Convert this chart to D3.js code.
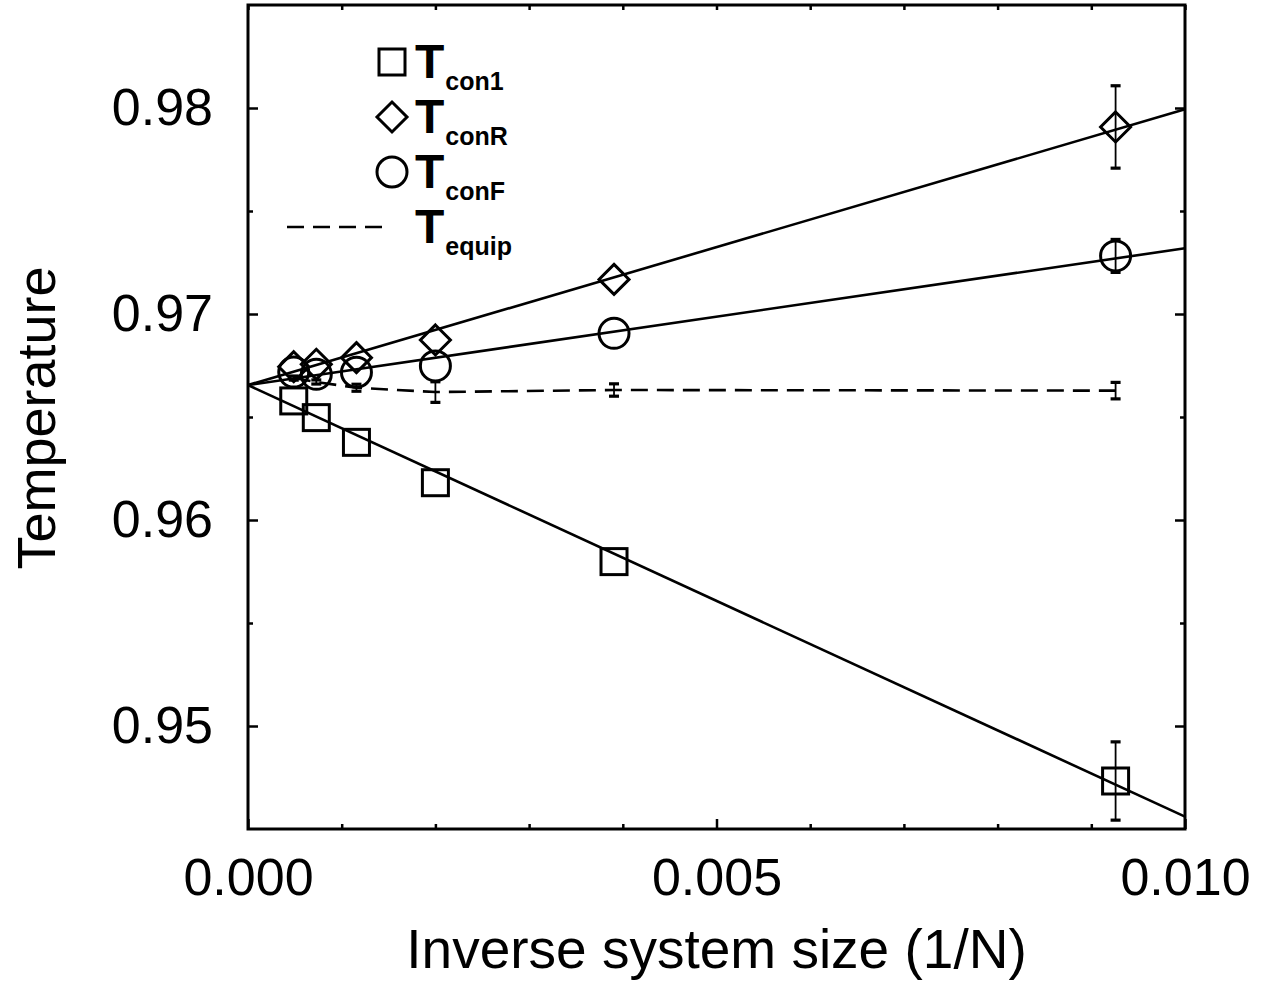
<!DOCTYPE html>
<html>
<head>
<meta charset="utf-8">
<script src="https://cdn.jsdelivr.net/npm/d3@7"></script>
<style>
  body { margin: 0; background: #fff; }
  svg { font-family: "Liberation Sans", Arial, sans-serif; }
</style>
</head>
<body>
<div id="chart"></div>
<script>
// Inverse system sizes 1/N (fcc: 108, 256, 500, 864, 1372, 2048)
const invN = [1 / 2048, 1 / 1372, 1 / 864, 1 / 500, 1 / 256, 1 / 108];

// Series values
const tCon1 = [0.96578, 0.96497, 0.96377, 0.96181, 0.95798, 0.94733];
const tCon1Err = [0, 0, 0, 0, 0, 0.0019];
const tConR = [0.96744, 0.96756, 0.96788, 0.96874, 0.97168, 0.97908];
const tConRErr = [0, 0, 0, 0, 0, 0.002];
const tConF = [0.96718, 0.96707, 0.96717, 0.96748, 0.96906, 0.97282];
const tConFErr = [0, 0, 0, 0, 0, 0.0008];
const tEquip = [0.96689, 0.96670, 0.96642, 0.96621, 0.96631, 0.96628];
const tEquipErr = [0.0001, 0.0001, 0.00017, 0.0005, 0.0003, 0.0004];

// Linear fits: value at 1/N = 0 and at 1/N = 0.010
const fitNames = ["con1", "conR", "conF"];
const fitStart = [0.96655, 0.96655, 0.96655];
const fitEnd = [0.94560, 0.97994, 0.97319];

// Axis ticks
const xMajor = [0, 0.005, 0.010];
const xMinor = [0.001, 0.002, 0.003, 0.004, 0.006, 0.007, 0.008, 0.009];
const yMajor = [0.95, 0.96, 0.97, 0.98];
const yMinor = [0.955, 0.965, 0.975];

const legendItems = [
  { sym: "square", sub: "con1" },
  { sym: "diamond", sub: "conR" },
  { sym: "circle", sub: "conF" },
  { sym: "dash", sub: "equip" }
];

const width = 1285, height = 985;
const margin = { left: 248, top: 5, right: 100, bottom: 156 };
const plotW = width - margin.left - margin.right;
const plotH = height - margin.top - margin.bottom;

const x = d3.scaleLinear().domain([0, 0.010]).range([0, plotW]);
const y = d3.scaleLinear().domain([0.945, 0.985]).range([plotH, 0]);

const svg = d3.select("#chart").append("svg")
    .attr("width", width)
    .attr("height", height);

const g = svg.append("g")
    .attr("transform", `translate(${margin.left},${margin.top})`);

// Axes: ticks drawn inside on all four sides
function styleAxis(sel) {
  sel.select(".domain").remove();
  sel.selectAll(".tick line").attr("stroke", "#000").attr("stroke-width", 2.5);
  sel.selectAll("text").attr("fill", "#000");
}

g.append("g")
    .attr("transform", `translate(0,${plotH})`)
    .call(d3.axisBottom(x).tickValues(xMajor).tickSize(-10).tickPadding(29)
      .tickFormat(d3.format(".3f")))
    .call(styleAxis)
    .selectAll("text").style("font-size", "52px");
g.append("g")
    .attr("transform", `translate(0,${plotH})`)
    .call(d3.axisBottom(x).tickValues(xMinor).tickSize(-5).tickFormat(""))
    .call(styleAxis);
g.append("g")
    .call(d3.axisTop(x).tickValues(xMajor.concat(xMinor)).tickSize(-5).tickFormat(""))
    .call(styleAxis);

g.append("g")
    .call(d3.axisLeft(y).tickValues(yMajor).tickSize(-10).tickPadding(35)
      .tickFormat(d3.format(".2f")))
    .call(styleAxis)
    .selectAll("text").style("font-size", "52px");
g.append("g")
    .call(d3.axisLeft(y).tickValues(yMinor).tickSize(-5).tickFormat(""))
    .call(styleAxis);
g.append("g")
    .attr("transform", `translate(${plotW},0)`)
    .call(d3.axisRight(y).tickValues(yMajor).tickSize(-10).tickFormat(""))
    .call(styleAxis);
g.append("g")
    .attr("transform", `translate(${plotW},0)`)
    .call(d3.axisRight(y).tickValues(yMinor).tickSize(-5).tickFormat(""))
    .call(styleAxis);

// Fit lines
fitNames.forEach((name, i) => {
  g.append("line")
      .attr("x1", x(0)).attr("y1", y(fitStart[i]))
      .attr("x2", x(0.010)).attr("y2", y(fitEnd[i]))
      .attr("stroke", "#000")
      .attr("stroke-width", 2.6);
});

// Dashed T_equip line
const equipData = invN.map((v, i) => [v, tEquip[i]]);
g.append("path")
    .datum(equipData)
    .attr("fill", "none")
    .attr("stroke", "#000")
    .attr("stroke-width", 2.6)
    .attr("stroke-dasharray", "17,9")
    .attr("d", d3.line().x(d => x(d[0])).y(d => y(d[1])));

// Error bars
function errorBars(vals, errs) {
  invN.forEach((v, i) => {
    if (!errs[i]) return;
    const cx = x(v), top = y(vals[i] + errs[i]), bot = y(vals[i] - errs[i]);
    g.append("line").attr("x1", cx).attr("x2", cx).attr("y1", top).attr("y2", bot)
        .attr("stroke", "#000").attr("stroke-width", 1.8);
    [top, bot].forEach(yy => {
      g.append("line").attr("x1", cx - 5).attr("x2", cx + 5).attr("y1", yy).attr("y2", yy)
          .attr("stroke", "#000").attr("stroke-width", 3.2);
    });
  });
}
errorBars(tCon1, tCon1Err);
errorBars(tConR, tConRErr);
errorBars(tConF, tConFErr);
errorBars(tEquip, tEquipErr);

// Markers
function marker(sel, sym) {
  if (sym === "square") {
    sel.append("rect").attr("x", -13).attr("y", -13).attr("width", 26).attr("height", 26);
  } else if (sym === "diamond") {
    sel.append("path").attr("d", "M0,-15L15,0L0,15L-15,0Z");
  } else if (sym === "circle") {
    sel.append("circle").attr("r", 15);
  }
  sel.selectAll("*").attr("fill", "none").attr("stroke", "#000").attr("stroke-width", 3);
}

[[tCon1, "square"], [tConR, "diamond"], [tConF, "circle"]].forEach(([vals, sym]) => {
  invN.forEach((v, i) => {
    g.append("g")
        .attr("transform", `translate(${x(v)},${y(vals[i])})`)
        .call(marker, sym);
  });
});

// Frame
g.append("rect")
    .attr("width", plotW).attr("height", plotH)
    .attr("fill", "none").attr("stroke", "#000").attr("stroke-width", 3);

// Legend
const legend = svg.append("g");
legendItems.forEach((d, i) => {
  const ly = 62 + i * 55;
  if (d.sym === "dash") {
    legend.append("line")
        .attr("x1", 287).attr("x2", 388).attr("y1", ly).attr("y2", ly)
        .attr("stroke", "#000").attr("stroke-width", 2.6)
        .attr("stroke-dasharray", "17,9");
  } else {
    legend.append("g").attr("transform", `translate(392,${ly})`).call(marker, d.sym);
  }
  const t = legend.append("text")
      .attr("x", 415).attr("y", ly + 16)
      .attr("font-weight", "bold")
      .style("font-size", "48px")
      .text("T");
  t.append("tspan")
      .attr("dy", 12)
      .attr("dx", 1)
      .style("font-size", "25px")
      .text(d.sub);
});

// Axis titles
svg.append("text")
    .attr("x", margin.left + x(0.005))
    .attr("y", 968)
    .attr("text-anchor", "middle")
    .style("font-size", "55px")
    .text("Inverse system size (1/N)");

svg.append("text")
    .attr("transform", `translate(55,418) rotate(-90)`)
    .attr("text-anchor", "middle")
    .style("font-size", "54px")
    .text("Temperature");
</script>
</body>
</html>
